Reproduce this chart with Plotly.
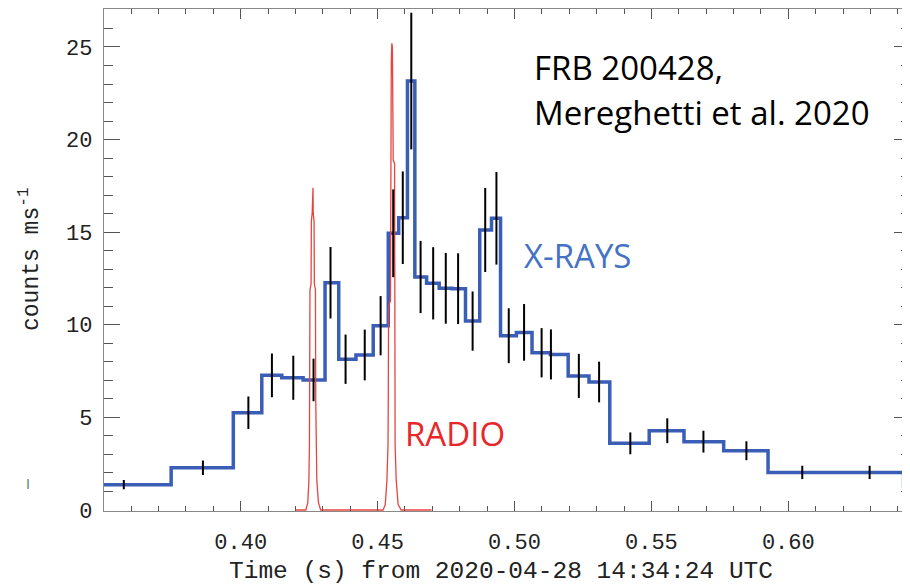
import plotly.graph_objects as go

# X-ray light curve (step histogram): bin edges (s) and rates (counts/ms)
bin_edges = [0.350, 0.3746, 0.3973, 0.4077, 0.4150, 0.4228, 0.4308, 0.4358, 0.4421,
             0.4484, 0.4539, 0.4577, 0.4609, 0.4636, 0.4679, 0.4725, 0.4772, 0.4821,
             0.4873, 0.4916, 0.4949, 0.5007, 0.5064, 0.5131, 0.5196, 0.5272, 0.5348,
             0.5492, 0.5619, 0.5764, 0.5926, 0.6173, 0.6421, 0.646]
xray_rate = [1.37, 2.28, 5.25, 7.27, 7.14, 7.02, 12.27, 8.14, 8.37, 9.95, 14.94,
             15.78, 23.16, 12.58, 12.24, 11.97, 11.95, 10.2, 15.12, 15.75, 9.41,
             9.59, 8.49, 8.4, 7.24, 6.91, 3.6, 4.28, 3.69, 3.2, 2.03, 2.03, 1.3]

# Error bars: time of each bar and half-length (counts/ms)
err_time = [0.3573, 0.3862, 0.4028, 0.4114, 0.4192, 0.4266, 0.4328, 0.4383, 0.4453,
            0.4511, 0.4557, 0.4592, 0.4623, 0.4657, 0.4703, 0.4749, 0.4794, 0.4847,
            0.4893, 0.4934, 0.4979, 0.5035, 0.5099, 0.5133, 0.5235, 0.5309, 0.5423,
            0.5558, 0.5690, 0.5847, 0.6051, 0.6297]
err_size = [0.25, 0.39, 0.88, 1.18, 1.19, 1.15, 1.93, 1.33, 1.37, 1.6, 2.37, 2.5,
            3.69, 1.95, 1.95, 1.91, 1.91, 1.6, 2.27, 2.5, 1.48, 1.53, 1.33, 1.35,
            1.19, 1.1, 0.59, 0.67, 0.59, 0.51, 0.36, 0.36]

# Radio light curve (scaled)
radio_time = [0.4200, 0.4238, 0.4245, 0.4249, 0.4251, 0.4252, 0.4253, 0.4257, 0.4258,
              0.4261, 0.4262, 0.4264, 0.4265, 0.4268, 0.4269, 0.4273, 0.4274, 0.4275,
              0.4278, 0.4284, 0.4292,
              0.4520, 0.4528, 0.4534, 0.4538, 0.4539, 0.4540, 0.4547, 0.4548, 0.4550,
              0.4552, 0.4554, 0.4556, 0.4557, 0.4562, 0.4563, 0.4564, 0.4568, 0.4575,
              0.4586, 0.4697]
radio_flux = [0, 0, 0.4, 1.6, 3.5, 6, 11.9, 12.2, 15.6, 16.0, 17.3, 17.4, 16.0, 15.6,
              12.2, 11.9, 6, 3.5, 1.6, 0.4, 0,
              0, 0.3, 1.6, 3.5, 6, 11.0, 11.3, 21.8, 24.2, 25.2, 25.0, 21.0, 18.9, 18.7,
              6, 3.5, 1.6, 0.3, 0, 0]

x_ticks = [0.40, 0.45, 0.50, 0.55, 0.60]
x_tick_text = ["0.40", "0.45", "0.50", "0.55", "0.60"]
y_ticks = [0, 5, 10, 15, 20, 25]

AX_FONT = "Liberation Mono"
TXT_FONT = "Open Sans"

# The page body has an 8px margin; plot area spans x 104..910, y 9..511 on screen.
PX0, PY1, PW, PH = 104, 511, 806, 502


def px(xp):
    return (xp - PX0) / PW


def py(yp):
    return (PY1 - yp) / PH


fig = go.Figure()
fig.add_trace(go.Scatter(
    x=bin_edges, y=xray_rate + [xray_rate[-1]], mode="lines",
    line=dict(shape="hv", color="#3a5db5", width=3.5), hoverinfo="skip"))
fig.add_trace(go.Scatter(
    x=radio_time, y=radio_flux, mode="lines",
    line=dict(color="#e8453f", width=1.3), hoverinfo="skip"))
fig.add_trace(go.Scatter(
    x=err_time, y=xray_rate[:len(err_time)], mode="markers",
    marker=dict(size=2, color="rgba(0,0,0,0)"),
    error_y=dict(type="data", array=err_size, width=0, thickness=2, color="black"),
    hoverinfo="skip"))

fig.update_layout(
    width=902, height=577,
    margin=dict(l=96, r=0, t=1, b=74, autoexpand=False),
    paper_bgcolor="white", plot_bgcolor="white",
    showlegend=False,
    xaxis=dict(
        range=[0.35007, 0.64445], tickvals=x_ticks, ticktext=x_tick_text,
        ticks="inside", ticklen=10, tickwidth=1.3, tickcolor="#555",
        showline=True, linecolor="#888", linewidth=1.3, mirror="allticks",
        minor=dict(dtick=0.01, tick0=0.40, ticks="inside", ticklen=5,
                   tickwidth=1.2, tickcolor="#555"),
        showgrid=False, zeroline=False, ticklabelstandoff=10, automargin=False,
        tickfont=dict(family=AX_FONT, size=22, color="#222")),
    yaxis=dict(
        range=[-0.054, 27.05], tickvals=y_ticks,
        ticks="inside", ticklen=16, tickwidth=1.3, tickcolor="#555",
        showline=True, linecolor="#888", linewidth=1.3, mirror="allticks",
        minor=dict(dtick=1, tick0=0, ticks="inside", ticklen=9,
                   tickwidth=1.2, tickcolor="#555"),
        showgrid=False, zeroline=False, ticklabelstandoff=6, automargin=False,
        tickfont=dict(family=AX_FONT, size=22, color="#222")),
)

annos = [
    dict(text="FRB 200428,", x=px(532), y=py(67), xanchor="left",
         yanchor="middle", font=dict(family=TXT_FONT, size=33, color="black")),
    dict(text="Mereghetti et al. 2020", x=px(532), y=py(112),
         xanchor="left", yanchor="middle",
         font=dict(family=TXT_FONT, size=33, color="black")),
    dict(text="X-RAYS", x=px(522), y=py(255), xanchor="left",
         yanchor="middle", font=dict(family=TXT_FONT, size=33, color="#4472c4")),
    dict(text="RADIO", x=px(403), y=py(433), xanchor="left",
         yanchor="middle", font=dict(family=TXT_FONT, size=33, color="#e8272b")),
    dict(text="Time (s) from 2020-04-28 14:34:24 UTC", x=px(500.5),
         y=py(571), xanchor="center", yanchor="middle",
         font=dict(family=AX_FONT, size=24.5, color="#222")),
    dict(text="counts ms<sup>-1</sup>", x=px(30), y=py(259),
         xanchor="center", yanchor="middle", textangle=-90,
         font=dict(family=AX_FONT, size=23, color="#222")),
    dict(text="|", x=px(28), y=py(484), xanchor="center",
         yanchor="middle", font=dict(family=AX_FONT, size=10, color="#222")),
]
for a in annos:
    a.update(xref="paper", yref="paper", showarrow=False)
    fig.add_annotation(**a)

fig.write_html("out.html")
